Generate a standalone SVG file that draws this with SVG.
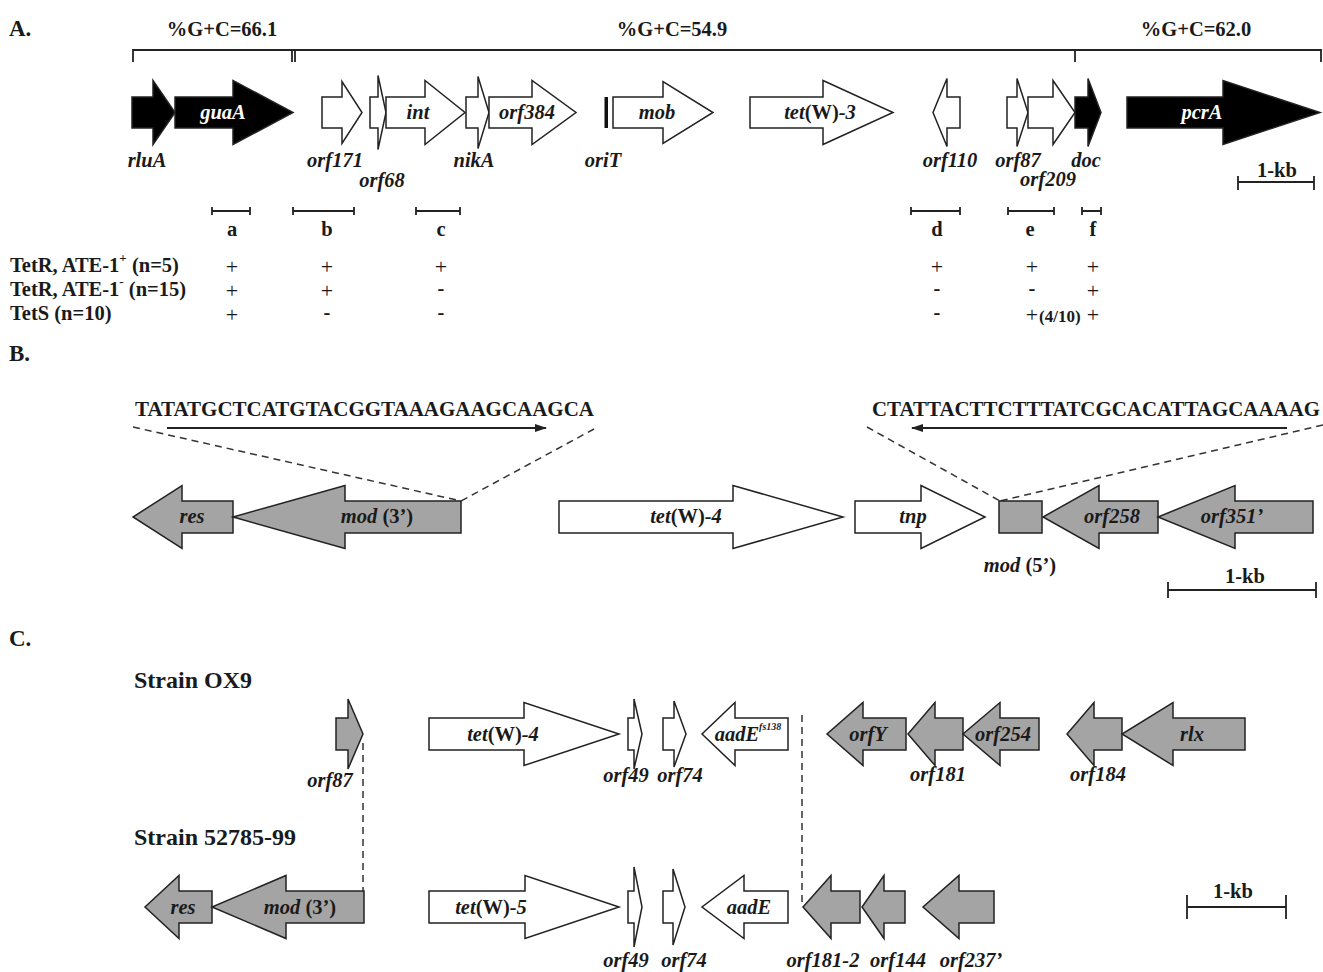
<svg xmlns="http://www.w3.org/2000/svg" width="1323" height="972" viewBox="0 0 1323 972">
<style>
text{font-family:"Liberation Serif","Times New Roman",serif;font-weight:bold;fill:#1a1a1a}
.pl{font-size:23px}
.gc{font-size:20.5px;text-anchor:middle}
.lb{font-size:20.5px;font-style:italic;text-anchor:middle}
.w{fill:#fff}
.n{font-style:normal}
.tb{font-size:20.5px}
.pm{font-size:22px;font-weight:normal;text-anchor:middle}
.mi{font-size:20.5px;text-anchor:middle}
.seq{font-size:20px}
.st{font-size:24px}
.ar{stroke:#222;stroke-width:1.5;stroke-linejoin:miter}
.bk{fill:#000}
.wt{fill:#fff}
.gy{fill:#a4a4a4}
.ln{stroke:#222;stroke-width:1.8;fill:none}
.ds{stroke:#333;stroke-width:1.5;stroke-dasharray:7,5;fill:none}
</style>
<defs>
<marker id="ah" markerWidth="12" markerHeight="8" refX="11" refY="4" orient="auto" markerUnits="userSpaceOnUse">
<path d="M0,0 L12,4 L0,8 Z" fill="#222"/>
</marker>
</defs>

<!-- Panel labels -->
<text class="pl" x="9" y="36">A.</text>
<text class="pl" x="9" y="361">B.</text>
<text class="pl" x="9" y="646">C.</text>

<!-- Panel A: GC bracket -->
<g id="gc-bracket">
<text class="gc" x="222" y="36">%G+C=66.1</text>
<text class="gc" x="672" y="36">%G+C=54.9</text>
<text class="gc" x="1196" y="36">%G+C=62.0</text>
<path class="ln" d="M133,62 V50 H1321 V62 M292,50 V62 M295,50 V62 M1075,50 V62"/>
</g>

<!-- Panel A genes -->
<g id="rluA"><path class="ar bk" d="M132,97 L153,97 L153,80.5 L175,112.5 L153,144.5 L153,128 L132,128 Z"/><text class="lb" x="147" y="167">rluA</text></g>
<g id="guaA"><path class="ar bk" d="M175,97 L233,97 L233,80.5 L293,112.5 L233,144.5 L233,128 L175,128 Z"/><text class="lb w" x="223" y="119">guaA</text></g>
<g id="orf171"><path class="ar wt" d="M322,97 L342,97 L342,81.5 L362,112.5 L342,143.5 L342,128 L322,128 Z"/><text class="lb" x="335" y="167">orf171</text></g>
<g id="orf68"><path class="ar wt" d="M370,97 L378,97 L378,75.5 L386,112.5 L378,149.5 L378,128 L370,128 Z"/><text class="lb" x="382" y="187">orf68</text></g>
<g id="int"><path class="ar wt" d="M386,97 L425,97 L425,80.5 L465,112.5 L425,144.5 L425,128 L386,128 Z"/><text class="lb" x="418" y="119">int</text></g>
<g id="nikA"><path class="ar wt" d="M466,97 L478,97 L478,76.5 L489,112.5 L478,148.5 L478,128 L466,128 Z"/><text class="lb" x="474" y="167">nikA</text></g>
<g id="orf384"><path class="ar wt" d="M489,97 L532,97 L532,80.5 L576,112.5 L532,144.5 L532,128 L489,128 Z"/><text class="lb" x="527" y="119">orf384</text></g>
<g id="oriT"><rect x="604.5" y="97" width="3.5" height="31" fill="#111"/><text class="lb" x="603" y="167">oriT</text></g>
<g id="mob"><path class="ar wt" d="M613,97 L663,97 L663,81.5 L713,112.5 L663,143.5 L663,128 L613,128 Z"/><text class="lb" x="657" y="119">mob</text></g>
<g id="tetW3"><path class="ar wt" d="M750,97 L823,97 L823,80.5 L893,112.5 L823,144.5 L823,128 L750,128 Z"/><text class="lb" x="820" y="119">tet<tspan class="n">(W)</tspan>-3</text></g>
<g id="orf110"><path class="ar wt" d="M960,97 L947,97 L947,78.5 L933,112.5 L947,146.5 L947,128 L960,128 Z"/><text class="lb" x="950" y="167">orf110</text></g>
<g id="orf87a"><path class="ar wt" d="M1007,97 L1017,97 L1017,78.5 L1028,112.5 L1017,146.5 L1017,128 L1007,128 Z"/><text class="lb" x="1018" y="167">orf87</text></g>
<g id="orf209"><path class="ar wt" d="M1028,97 L1053,97 L1053,80.5 L1075,112.5 L1053,144.5 L1053,128 L1028,128 Z"/><text class="lb" x="1048" y="186">orf209</text></g>
<g id="doc"><path class="ar bk" d="M1075,97 L1088,97 L1088,78.5 L1101,112.5 L1088,146.5 L1088,128 L1075,128 Z"/><text class="lb" x="1086" y="167">doc</text></g>
<g id="pcrA"><path class="ar bk" d="M1127,97 L1223,97 L1223,80.5 L1320,112.5 L1223,144.5 L1223,128 L1127,128 Z"/><text class="lb w" x="1202" y="119">pcrA</text></g>

<g id="scaleA"><path class="ln" d="M1238,182 H1314 M1238,176 V190 M1314,176 V190"/><text class="mi" x="1277" y="177">1-kb</text></g>

<!-- Panel A probes and table -->
<g id="probes">
<path class="ln" stroke-width="1.5" d="M212,211 H250 M212,207 V215 M250,207 V215 M293,211 H354 M293,207 V215 M354,207 V215 M416,211 H460 M416,207 V215 M460,207 V215 M911,211 H960 M911,207 V215 M960,207 V215 M1008,211 H1054 M1008,207 V215 M1054,207 V215 M1082,211 H1101 M1082,207 V215 M1101,207 V215"/>
<text class="mi" x="232" y="236">a</text>
<text class="mi" x="327" y="236">b</text>
<text class="mi" x="441" y="236">c</text>
<text class="mi" x="937" y="236">d</text>
<text class="mi" x="1030" y="236">e</text>
<text class="mi" x="1093" y="236">f</text>
</g>
<g id="table">
<text class="tb" x="10" y="272">TetR, ATE-1<tspan font-size="13" dy="-10">+</tspan><tspan dy="10"> (n=5)</tspan></text>
<text class="tb" x="10" y="296">TetR, ATE-1<tspan font-size="13" dy="-10">-</tspan><tspan dy="10"> (n=15)</tspan></text>
<text class="tb" x="10" y="320">TetS (n=10)</text>
<text class="pm" x="232" y="274">+</text><text class="pm" x="327" y="274">+</text><text class="pm" x="441" y="274">+</text><text class="pm" x="937" y="274">+</text><text class="pm" x="1032" y="274">+</text><text class="pm" x="1093" y="274">+</text>
<text class="pm" x="232" y="298">+</text><text class="pm" x="327" y="298">+</text><text class="mi" x="441" y="295">-</text><text class="mi" x="937" y="295">-</text><text class="mi" x="1032" y="295">-</text><text class="pm" x="1093" y="298">+</text>
<text class="pm" x="232" y="322">+</text><text class="mi" x="327" y="319">-</text><text class="mi" x="441" y="319">-</text><text class="mi" x="937" y="319">-</text><text class="pm" x="1032" y="322">+</text><text x="1039" y="322" font-size="17">(4/10)</text><text class="pm" x="1093" y="322">+</text>
</g>

<!-- Panel B -->
<g id="seqB">
<text class="seq" x="135" y="416" textLength="459" lengthAdjust="spacingAndGlyphs">TATATGCTCATGTACGGTAAAGAAGCAAGCA</text>
<text class="seq" x="872" y="416" textLength="448" lengthAdjust="spacingAndGlyphs">CTATTACTTCTTTATCGCACATTAGCAAAAG</text>
</g>
<g id="connectors-B">
<line class="ln" stroke-width="1.5" x1="167" y1="428" x2="546" y2="428" marker-end="url(#ah)"/>
<line class="ln" stroke-width="1.5" x1="1287" y1="428" x2="912" y2="428" marker-end="url(#ah)"/>
<path class="ds" d="M133,427 L461,501 M594,429 L461,501 M867,427 L1000,501 M1323,425 L1000,501"/>
</g>
<g id="resB"><path class="ar gy" d="M233,501 L182,501 L182,485.5 L133,517 L182,548.5 L182,533 L233,533 Z"/><text class="lb" x="192" y="523">res</text></g>
<g id="mod3B"><path class="ar gy" d="M461,501 L345,501 L345,485.5 L233,517 L345,548.5 L345,533 L461,533 Z"/><text class="lb" x="377" y="523">mod<tspan class="n"> (3’)</tspan></text></g>
<g id="tetW4B"><path class="ar wt" d="M559,501 L733,501 L733,485.5 L843,517 L733,548.5 L733,533 L559,533 Z"/><text class="lb" x="686" y="523">tet<tspan class="n">(W)</tspan>-4</text></g>
<g id="tnp"><path class="ar wt" d="M855,501 L921,501 L921,485.5 L985,517 L921,548.5 L921,533 L855,533 Z"/><text class="lb" x="913" y="523">tnp</text></g>
<g id="mod5B"><rect class="ar gy" x="999" y="501" width="43" height="32"/><text class="lb" x="1020" y="572">mod<tspan class="n"> (5’)</tspan></text></g>
<g id="orf258"><path class="ar gy" d="M1158,501 L1099,501 L1099,485.5 L1043,517 L1099,548.5 L1099,533 L1158,533 Z"/><text class="lb" x="1112" y="523">orf258</text></g>
<g id="orf351"><path class="ar gy" d="M1313,501 L1235,501 L1235,485.5 L1158,517 L1235,548.5 L1235,533 L1313,533 Z"/><text class="lb" x="1232" y="523">orf351’</text></g>
<g id="scaleB"><path class="ln" d="M1168,590 H1316 M1168,582 V598 M1316,582 V598"/><text class="mi" x="1245" y="583">1-kb</text></g>

<!-- Panel C -->
<text class="st" x="134" y="688">Strain OX9</text>
<text class="st" x="134" y="845">Strain 52785-99</text>
<g id="connectors-C">
<path class="ds" d="M363,743 V891 M802,715 V902"/>
</g>
<g id="orf87C"><path class="ar gy" d="M336,718 L348,718 L348,699 L363,734 L348,769 L348,750 L336,750 Z"/><text class="lb" x="330" y="787">orf87</text></g>
<g id="tetW4C"><path class="ar wt" d="M429,718 L524,718 L524,702.5 L619,734 L524,765.5 L524,750 L429,750 Z"/><text class="lb" x="503" y="741">tet<tspan class="n">(W)</tspan>-4</text></g>
<g id="orf49C1"><path class="ar wt" d="M628,718 L634,718 L634,699 L642,734 L634,769 L634,750 L628,750 Z"/><text class="lb" x="626" y="782">orf49</text></g>
<g id="orf74C1"><path class="ar wt" d="M663,718 L674,718 L674,701 L686,734 L674,767 L674,750 L663,750 Z"/><text class="lb" x="680" y="782">orf74</text></g>
<g id="aadEfs"><path class="ar wt" d="M788,718 L735,718 L735,702.5 L702,734 L735,765.5 L735,750 L788,750 Z"/><text class="lb" x="748" y="741">aadE<tspan font-size="10" dy="-11">fs138</tspan></text></g>
<g id="orfY"><path class="ar gy" d="M906,718 L863,718 L863,702.5 L827,734 L863,765.5 L863,750 L906,750 Z"/><text class="lb" x="868" y="741">orfY</text></g>
<g id="orf181"><path class="ar gy" d="M963,718 L935,718 L935,702.5 L908,734 L935,765.5 L935,750 L963,750 Z"/><text class="lb" x="938" y="781">orf181</text></g>
<g id="orf254"><path class="ar gy" d="M1039,718 L1000,718 L1000,702.5 L963,734 L1000,765.5 L1000,750 L1039,750 Z"/><text class="lb" x="1003" y="741">orf254</text></g>
<g id="orf184"><path class="ar gy" d="M1122,718 L1094,718 L1094,702.5 L1067,734 L1094,765.5 L1094,750 L1122,750 Z"/><text class="lb" x="1098" y="781">orf184</text></g>
<g id="rlx"><path class="ar gy" d="M1245,718 L1173,718 L1173,702.5 L1122,734 L1173,765.5 L1173,750 L1245,750 Z"/><text class="lb" x="1192" y="741">rlx</text></g>

<g id="resC"><path class="ar gy" d="M212,891 L179,891 L179,875.5 L145,907 L179,938.5 L179,923 L212,923 Z"/><text class="lb" x="183" y="914">res</text></g>
<g id="mod3C"><path class="ar gy" d="M364,891 L286,891 L286,875.5 L212,907 L286,938.5 L286,923 L364,923 Z"/><text class="lb" x="300" y="914">mod<tspan class="n"> (3’)</tspan></text></g>
<g id="tetW5"><path class="ar wt" d="M429,891 L525,891 L525,875.5 L619,907 L525,938.5 L525,923 L429,923 Z"/><text class="lb" x="491" y="914">tet<tspan class="n">(W)</tspan>-5</text></g>
<g id="orf49C2"><path class="ar wt" d="M628,891 L634,891 L634,867 L642,907 L634,947 L634,923 L628,923 Z"/><text class="lb" x="626" y="967">orf49</text></g>
<g id="orf74C2"><path class="ar wt" d="M663,891 L673,891 L673,869 L685,907 L673,945 L673,923 L663,923 Z"/><text class="lb" x="684" y="967">orf74</text></g>
<g id="aadE"><path class="ar wt" d="M788,891 L744,891 L744,875.5 L702,907 L744,938.5 L744,923 L788,923 Z"/><text class="lb" x="749" y="914">aadE</text></g>
<g id="orf181-2"><path class="ar gy" d="M860,891 L831,891 L831,875.5 L803,907 L831,938.5 L831,923 L860,923 Z"/><text class="lb" x="823" y="967">orf181-2</text></g>
<g id="orf144"><path class="ar gy" d="M905,891 L884,891 L884,875.5 L862,907 L884,938.5 L884,923 L905,923 Z"/><text class="lb" x="898" y="967">orf144</text></g>
<g id="orf237"><path class="ar gy" d="M994,891 L959,891 L959,875.5 L923,907 L959,938.5 L959,923 L994,923 Z"/><text class="lb" x="971" y="967">orf237’</text></g>
<g id="scaleC"><path class="ln" d="M1187,907 H1286 M1187,895 V919 M1286,895 V919"/><text class="mi" x="1233" y="898">1-kb</text></g>
</svg>
